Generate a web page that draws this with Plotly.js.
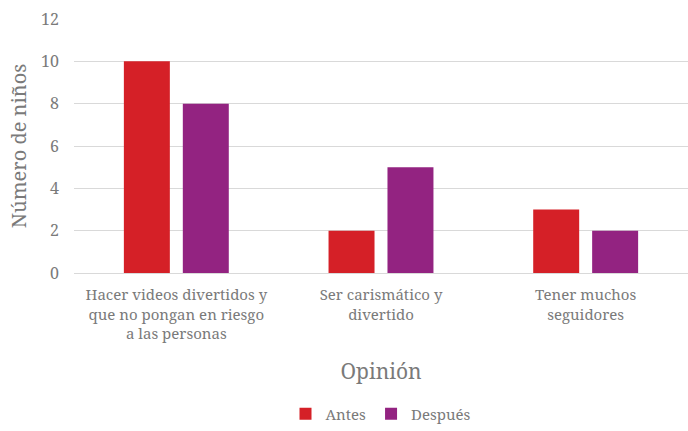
<!DOCTYPE html>
<html>
<head>
<meta charset="utf-8">
<script src="https://cdn.plot.ly/plotly-3.0.1.min.js"></script>
<style>html,body{margin:0;padding:0;background:#fff;}#chart{width:688px;height:431px;}</style>
</head>
<body>
<div id="chart"></div>
<script>
const categories = [
  "Hacer videos divertidos y<br>que no pongan en riesgo<br>a las personas",
  "Ser carismático y<br>divertido",
  "Tener muchos<br>seguidores"
];
const antes = [10, 2, 3];
const despues = [8, 5, 2];
const yTicks = [0, 2, 4, 6, 8, 10, 12];

const FONT = "Noto Serif, DejaVu Serif, serif";
const GREY = "#7a7a7a";

const traces = [
  {type: "bar", name: "Antes", x: categories, y: antes, marker: {color: "#D52027"}},
  {type: "bar", name: "Después", x: categories, y: despues, marker: {color: "#932381"}}
];

const layout = {
  width: 688, height: 431,
  margin: {l: 74, r: 0, t: 19, b: 156},
  paper_bgcolor: "#fff", plot_bgcolor: "#fff",
  font: {family: FONT, color: GREY, size: 16},
  barmode: "group",
  bargap: 0.424,
  bargroupgap: 0.22,
  showlegend: true,
  legend: {orientation: "h", x: 0.5, xanchor: "center", y: -0.555, yanchor: "middle",
           font: {family: FONT, size: 15, color: GREY}, itemwidth: 30},
  xaxis: {
    automargin: false,
    title: {text: "Opinión", font: {family: FONT, size: 21, color: GREY}, standoff: 22},
    tickfont: {family: FONT, size: 15, color: GREY},
    ticklabelstandoff: 11,
    showline: false, ticks: "", showgrid: false
  },
  yaxis: {
    automargin: false,
    range: [0, 12], tickvals: yTicks, ticktext: yTicks.map(String),
    tickfont: {family: FONT, size: 16, color: GREY},
    ticklabelstandoff: 14,
    gridcolor: "#d9d9d9", gridwidth: 1,
    zeroline: true, zerolinecolor: "#d9d9d9", zerolinewidth: 1,
    showline: false, ticks: "", ticklen: 0,
    title: {text: "Número de niños", font: {family: FONT, size: 20, color: GREY}, standoff: 9}
  }
};

Plotly.newPlot("chart", traces, layout, {displayModeBar: false, staticPlot: true});
</script>
</body>
</html>
